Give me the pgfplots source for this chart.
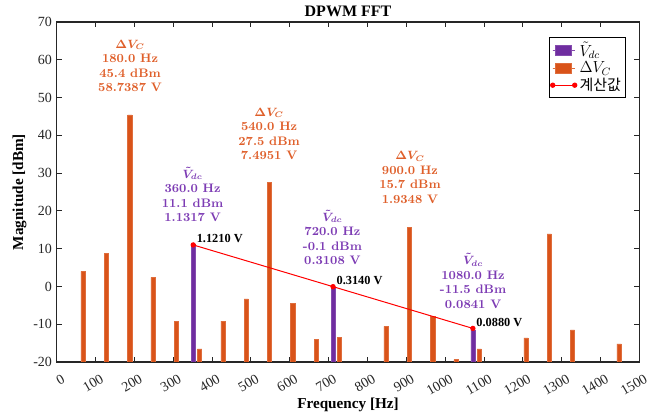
\documentclass[border=0pt]{standalone}
\usepackage{fontspec}
\setmainfont{Liberation Serif}
\newfontfamily\lmfont{Latin Modern Roman}
\newfontfamily\krfont{Noto Sans CJK KR}
\usepackage{pgfplots}
\usepackage{pgfplotstable}
\pgfplotsset{compat=1.18}

\definecolor{vdc}{HTML}{6F2DA0}
\definecolor{dvc}{HTML}{D95319}
\definecolor{vdctxt}{HTML}{7D3CB4}
\definecolor{dvctxt}{HTML}{DF5F2A}
\definecolor{axgray}{HTML}{262626}

\pgfplotsset{
  barlegend/.style={legend image code/.code={\path (0pt,0pt) -- (16.5pt,0pt);
    \draw[##1] (1.7pt,-3.75pt) rectangle (14.2pt,3.75pt);}},
  linelegend/.style={legend image code/.code={%
    \draw[##1] plot coordinates {(0pt,0pt) (16.5pt,0pt)};}},
}

% Delta V_C harmonics (Hz, dBm)
\pgfplotstableread{
f     db
60    4.0
120   8.8
180   45.4
240   2.4
300   -9.2
360   -16.5
420   -9.2
480   -3.3
540   27.5
600   -4.5
660   -14.0
720   -13.5
840   -10.6
900   15.7
960   -8.0
1020  -19.4
1080  -16.5
1200  -13.6
1260  13.9
1320  -11.5
1440  -15.2
}\dvctable

% V_dc ripple (Hz, dBm)
\pgfplotstableread{
f     db
360   11.1
720   -0.1
1080  -11.5
}\vdctable

% calculated values (at bar positions)
\pgfplotstableread{
f       db
351.5   10.99
711.5   -0.06
1071.5  -11.11
}\calctable

\begin{document}
\begin{tikzpicture}
\begin{axis}[
  scale only axis,
  width=437pt, height=255pt,
  xmin=0, xmax=1500, ymin=-20, ymax=70,
  y coord trafo/.code={\pgfmathparse{#1+20}},
  y coord inv trafo/.code={\pgfmathparse{#1-20}},
  xtick={0,100,...,1500},
  xticklabels={0,100,200,300,400,500,600,700,800,900,1000,1100,1200,1300,1400,1500},
  ytick={-20,-10,...,70},
  yticklabels={-20,-10,0,10,20,30,40,50,60,70},
  tick align=inside,
  major tick length=4pt,
  tick style={axgray, line width=0.6pt},
  axis line style={axgray, line width=0.8pt},
  tick label style={font=\fontsize{10.5}{12}\selectfont, text=axgray},
  xticklabel style={xshift=4.5pt, yshift=-4pt, rotate=30, anchor=north east},
  title={DPWM FFT},
  xlabel={Frequency [Hz]},
  ylabel={Magnitude [dBm]},
  every axis title/.style={at={(rel axis cs:0.5,1)}, yshift=7.9pt, anchor=center,
    font=\bfseries\fontsize{12}{14}\selectfont},
  every axis x label/.style={at={(rel axis cs:0.5,0)}, yshift=-32.2pt, anchor=center,
    font=\bfseries\fontsize{11.4}{13}\selectfont},
  every axis y label/.style={at={(rel axis cs:0,0.5)}, xshift=-27.9pt, rotate=90, anchor=center,
    font=\bfseries\fontsize{11.4}{13}\selectfont},
  legend cell align=left,
  legend style={at={(rel axis cs:1,1)}, anchor=north east, xshift=-10.5pt, yshift=-11pt,
    draw=black, line width=0.6pt, font=\fontsize{12}{13}\selectfont,
    inner xsep=1pt, inner ysep=1.5pt, row sep=-1.5pt},
]
\addplot[ybar, bar width=11, bar shift=-8, fill=vdc, draw=vdc!85!white, line width=0.4pt, barlegend]
  table[x=f, y=db] {\vdctable};
\addlegendentry{$\tilde{V}_{dc}$}

\addplot[ybar, bar width=11, bar shift=8, fill=dvc, draw=dvc!85!white, line width=0.4pt, barlegend]
  table[x=f, y=db] {\dvctable};
\addlegendentry{$\Delta V_C$}

\addplot[red, line width=0.75pt, mark=*, mark size=1.6pt, mark options={fill=red, draw=red}, linelegend]
  table[x=f, y=db] {\calctable};
\addlegendentry{\krfont\fontsize{11.25}{13}\selectfont 계산값}

% annotations
\begin{scope}[every node/.style={align=center, inner sep=0pt,
    font=\lmfont\bfseries\boldmath\fontsize{9.25}{10.9}\selectfont}]
\node[text=dvctxt] at (axis cs:189,58.35) {$\Delta V_C$\\180.0 Hz\\45.4 dBm\\58.7387 V};
\node[text=dvctxt] at (axis cs:547,40.4) {$\Delta V_C$\\540.0 Hz\\27.5 dBm\\7.4951 V};
\node[text=dvctxt] at (axis cs:909.6,28.8) {$\Delta V_C$\\900.0 Hz\\15.7 dBm\\1.9348 V};
\node[text=vdctxt] at (axis cs:350,24.3) {$\tilde{V}_{dc}$\\360.0 Hz\\11.1 dBm\\1.1317 V};
\node[text=vdctxt] at (axis cs:710,13.0) {$\tilde{V}_{dc}$\\720.0 Hz\\-0.1 dBm\\0.3108 V};
\node[text=vdctxt] at (axis cs:1072,1.45) {$\tilde{V}_{dc}$\\1080.0 Hz\\-11.5 dBm\\0.0841 V};
\end{scope}

\begin{scope}[every node/.style={anchor=base west, inner sep=0pt, xshift=2.5pt, yshift=1.8pt,
    font=\bfseries\fontsize{9.25}{11}\selectfont}]
\node at (axis cs:351.5,10.99) {1.1210 V};
\node at (axis cs:711.5,-0.06) {0.3140 V};
\node at (axis cs:1071.5,-11.11) {0.0880 V};
\end{scope}
\end{axis}
\pgfresetboundingbox
\path ([xshift=-42.5pt,yshift=-43.5pt]current axis.south west)
  rectangle ([xshift=14pt,yshift=16.5pt]current axis.north east);
\end{tikzpicture}
\end{document}
